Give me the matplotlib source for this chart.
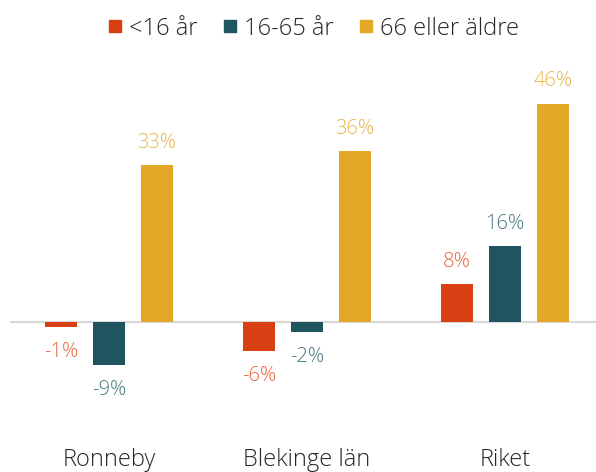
import numpy as np
import matplotlib.pyplot as plt
from matplotlib.lines import Line2D

categories = ['Ronneby', 'Blekinge län', 'Riket']
series = ['<16 år', '16-65 år', '66 eller äldre']
values = {
    '<16 år': [-1, -6, 8],
    '16-65 år': [-9, -2, 16],
    '66 eller äldre': [33, 36, 46],
}
labels = {
    '<16 år': ['-1%', '-6%', '8%'],
    '16-65 år': ['-9%', '-2%', '16%'],
    '66 eller äldre': ['33%', '36%', '46%'],
}

bar_colors = ['#D74012', '#1F555E', '#E4A829']
text_colors = ['#E8643E', '#46767E', '#E8B548']

plt.rcParams['font.family'] = ['Open Sans', 'DejaVu Sans']

fig = plt.figure(figsize=(5.96, 4.72), dpi=100)
# axes: x from px 10 to 596, y from px 60 to 440
ax = fig.add_axes([10 / 596, 1 - 440 / 472, 586 / 596, 380 / 472])

x = np.arange(len(categories))
width = 0.162
step = 0.2424

for i, s in enumerate(series):
    xs = x + (i - 1) * step
    bars = ax.bar(xs, values[s], width, color=bar_colors[i], zorder=2)
    for b, v, lab in zip(bars, values[s], labels[s]):
        off = 9 if v >= 0 else -11
        ax.annotate(lab, (b.get_x() + b.get_width() / 2, v), xytext=(0, off),
                    textcoords='offset points', ha='center',
                    va='bottom' if v >= 0 else 'top',
                    fontsize=14.5, color=text_colors[i], fontweight='light')

ax.axhline(0, color='#D9D9D9', lw=1.5, zorder=1)
ax.set_xlim(-0.5, 2.46)
ax.set_ylim(-24.8, 55.2)
ax.set_xticks(x)
ax.set_xticklabels(categories, fontsize=17, color='#262626', fontweight='light')
ax.tick_params(axis='x', length=0, pad=6)
ax.set_yticks([])
for sp in ax.spines.values():
    sp.set_visible(False)

handles = [Line2D([], [], marker='s', linestyle='none', markersize=9,
                  markerfacecolor=c, markeredgecolor=c) for c in bar_colors]
fig.legend(handles, series, loc='upper center', bbox_to_anchor=(0.52, 1.01),
           ncol=3, frameon=False, handletextpad=0.0,
           handlelength=1.2, columnspacing=0.75, labelcolor='#262626',
           prop={'size': 17, 'weight': 'light'})

fig.savefig('out.png', dpi=100)
